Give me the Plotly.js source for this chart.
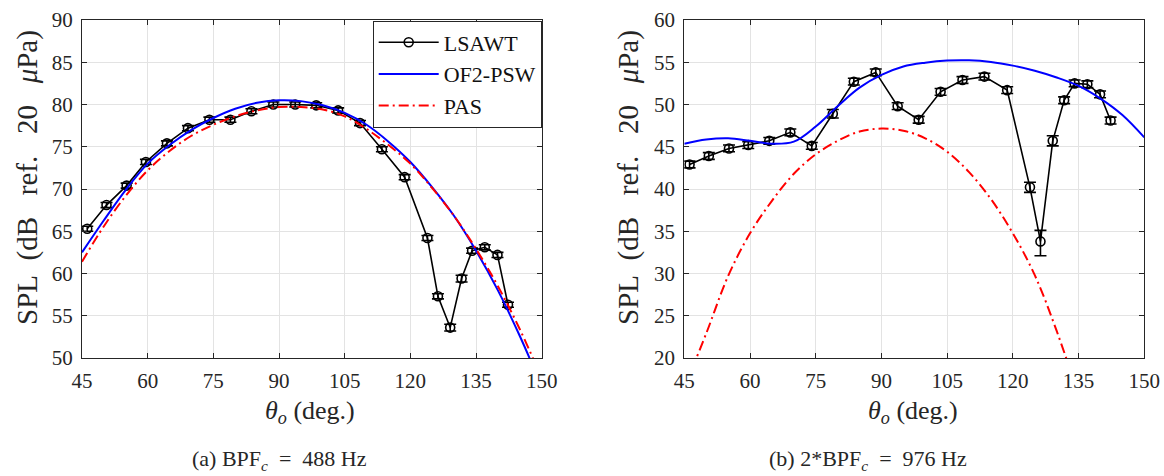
<!DOCTYPE html>
<html>
<head>
<meta charset="utf-8">
<script src="https://cdn.plot.ly/plotly-3.0.1.min.js"></script>
<style>html,body{margin:0;padding:0;background:#fff;}#chart{width:1164px;height:476px;}</style>
</head>
<body>
<div id="chart"></div>
<script>
// Measurement angles (deg.)
const theta = [46.2, 50.6, 55.2, 59.6, 64.4, 69.2, 74.1, 78.9, 83.7, 88.7, 93.7, 98.5,
               103.5, 108.5, 113.5, 118.7, 123.9, 126.3, 129.1, 131.7, 134.1, 137.0, 139.9, 142.3];

// (a) BPFc = 488 Hz
const lsawtA    = [65.3, 68.1, 70.4, 73.2, 75.4, 77.2, 78.2, 78.2, 79.2, 80.0, 80.0, 79.9,
                   79.3, 77.8, 74.7, 71.4, 64.2, 57.3, 53.6, 59.4, 62.7, 63.1, 62.2, 56.3];
const lsawtAErr = [0.3, 0.3, 0.3, 0.3, 0.3, 0.3, 0.3, 0.3, 0.3, 0.3, 0.3, 0.3,
                   0.3, 0.3, 0.3, 0.3, 0.3, 0.3, 0.4, 0.4, 0.3, 0.3, 0.3, 0.3];

// (b) 2*BPFc = 976 Hz
const lsawtB       = [42.9, 43.9, 44.8, 45.2, 45.7, 46.7, 45.1, 48.9, 52.7, 53.8, 49.8, 48.2,
                      51.5, 52.9, 53.3, 51.7, 40.2, 33.8, 45.7, 50.5, 52.5, 52.4, 51.2, 48.1];
const lsawtBErrUp  = [0.4, 0.4, 0.4, 0.4, 0.4, 0.4, 0.4, 0.5, 0.4, 0.4, 0.4, 0.4,
                      0.4, 0.4, 0.4, 0.4, 0.6, 1.3, 0.6, 0.4, 0.4, 0.4, 0.4, 0.4];
const lsawtBErrDn  = [0.4, 0.4, 0.4, 0.4, 0.4, 0.4, 0.4, 0.5, 0.4, 0.4, 0.4, 0.4,
                      0.4, 0.4, 0.4, 0.4, 0.6, 1.7, 0.6, 0.4, 0.4, 0.4, 0.4, 0.4];

// Prediction curves, read every 5 deg.
const thetaCurve = [45, 50, 55, 60, 65, 70, 75, 80, 85, 90, 95, 100, 105, 110, 115, 120, 125, 130, 135, 140, 145, 150];
const of2pswA = [62.5, 66.3, 69.9, 73.0, 75.2, 77.0, 78.4, 79.5, 80.2, 80.5, 80.4, 79.9,
                 79.0, 77.6, 75.6, 73.2, 70.2, 66.8, 62.7, 58.0, 52.6, 46.6];
const pasA    = [61.4, 65.6, 69.2, 72.2, 74.5, 76.3, 77.6, 78.6, 79.3, 79.7, 79.7, 79.4,
                 78.6, 77.1, 75.2, 73.0, 70.1, 66.8, 62.9, 58.5, 53.4, 47.6];
const of2pswB = [45.35, 45.85, 46.0, 45.7, 45.35, 45.6, 47.4, 49.8, 52.0, 53.5, 54.5, 54.95,
                 55.2, 55.23, 55.03, 54.6, 54.0, 53.2, 52.2, 50.7, 48.75, 46.1];
const pasB    = [16.5, 22.9, 29.7, 34.75, 38.6, 41.8, 44.1, 45.7, 46.8, 47.15, 46.9, 46.0,
                 44.4, 42.0, 38.8, 34.75, 29.8, 23.2, 15.5, 7.0, -2.0, -12.0];

const xTicks = [45, 60, 75, 90, 105, 120, 135, 150];

const W = 1164, H = 476;
const FONT = 'Liberation Serif, serif';
const AX = '#262626';

function px(x){ return x / W; }
function py(y){ return 1 - y / H; }

const markerStyle = {symbol: 'circle-open', size: 9, color: '#000', line: {width: 1.6, color: '#000'}};

const traces = [
  {x: theta, y: lsawtA, type: 'scatter', mode: 'lines+markers', name: 'LSAWT',
   line: {color: '#000', width: 1.6}, marker: markerStyle,
   error_y: {type: 'data', array: lsawtAErr, visible: true, color: '#000', thickness: 1.6, width: 6},
   xaxis: 'x', yaxis: 'y'},
  {x: thetaCurve, y: of2pswA, type: 'scatter', mode: 'lines', name: 'OF2-PSW',
   line: {color: '#0000ff', width: 2, shape: 'spline'}, xaxis: 'x', yaxis: 'y'},
  {x: thetaCurve, y: pasA, type: 'scatter', mode: 'lines', name: 'PAS',
   line: {color: '#ff0000', width: 2, dash: '10px,4px,2px,4px', shape: 'spline'}, xaxis: 'x', yaxis: 'y'},
  {x: theta, y: lsawtB, type: 'scatter', mode: 'lines+markers', name: 'LSAWT', showlegend: false,
   line: {color: '#000', width: 1.6}, marker: markerStyle,
   error_y: {type: 'data', symmetric: false, array: lsawtBErrUp, arrayminus: lsawtBErrDn, visible: true,
             color: '#000', thickness: 1.6, width: 6},
   xaxis: 'x2', yaxis: 'y2'},
  {x: thetaCurve, y: of2pswB, type: 'scatter', mode: 'lines', name: 'OF2-PSW', showlegend: false,
   line: {color: '#0000ff', width: 2, shape: 'spline'}, xaxis: 'x2', yaxis: 'y2'},
  {x: thetaCurve, y: pasB, type: 'scatter', mode: 'lines', name: 'PAS', showlegend: false,
   line: {color: '#ff0000', width: 2, dash: '10px,4px,2px,4px', shape: 'spline'}, xaxis: 'x2', yaxis: 'y2'}
];

function xAxis(d0, d1, anchor){
  return {domain: [px(d0), px(d1)], anchor: anchor, range: [45, 150], tickvals: xTicks,
    ticks: 'inside', ticklen: 5, tickcolor: AX, tickwidth: 1, showline: true, linecolor: AX, linewidth: 1,
    mirror: 'ticks', showgrid: true, gridcolor: '#e3e3e3', gridwidth: 1, zeroline: false,
    tickfont: {family: FONT, size: 21, color: AX}, ticklabelstandoff: 4, fixedrange: true};
}
function yAxis(r0, r1, anchor){
  return {domain: [py(358), py(20)], anchor: anchor, range: [r0, r1], dtick: 5,
    ticks: 'inside', ticklen: 5, tickcolor: AX, tickwidth: 1, showline: true, linecolor: AX, linewidth: 1,
    mirror: 'ticks', showgrid: true, gridcolor: '#e3e3e3', gridwidth: 1, zeroline: false,
    tickfont: {family: FONT, size: 21, color: AX}, ticklabelstandoff: 4, fixedrange: true};
}

const ylabel = 'SPL&nbsp;&nbsp;(dB&nbsp;&nbsp;&nbsp;ref.&nbsp;&nbsp;&nbsp;20&nbsp;&nbsp;&nbsp;<i>μ</i>Pa)';
const xlabel = '<i>θ<sub>o</sub></i>&nbsp;(deg.)';

function ann(text, x, y, size, angle){
  return {text: text, x: px(x), y: py(y), xref: 'paper', yref: 'paper', xanchor: 'center', yanchor: 'middle',
          textangle: angle || 0, showarrow: false, font: {family: FONT, size: size, color: AX}};
}

const layout = {
  width: W, height: H,
  margin: {l: 0, r: 0, t: 0, b: 0},
  font: {family: FONT, size: 21, color: AX},
  paper_bgcolor: '#fff', plot_bgcolor: '#fff',
  showlegend: true,
  legend: {x: px(541.7), xanchor: 'right', y: py(20.5), yanchor: 'top',
    bgcolor: '#fff', bordercolor: AX, borderwidth: 1, itemwidth: 60,
    font: {family: FONT, size: 22, color: '#111'}, tracegroupgap: 0},
  xaxis: xAxis(82, 541.7, 'y'),
  yaxis: yAxis(50, 90, 'x'),
  xaxis2: xAxis(684.3, 1144.3, 'y2'),
  yaxis2: yAxis(20, 60, 'x2'),
  annotations: [
    ann(ylabel, 27, 178, 29, -90),
    ann(ylabel, 628, 178, 29, -90),
    ann(xlabel, 310, 412, 26),
    ann(xlabel, 913, 412, 26),
    ann('(a)&nbsp;BPF<sub><i>c</i></sub>&nbsp;&nbsp;=&nbsp;&nbsp;488&nbsp;Hz', 279, 460, 22),
    ann('(b)&nbsp;2*BPF<sub><i>c</i></sub>&nbsp;&nbsp;=&nbsp;&nbsp;976&nbsp;Hz', 868, 460, 22)
  ]
};

Plotly.newPlot('chart', traces, layout, {staticPlot: true, displayModeBar: false});
</script>
</body>
</html>
